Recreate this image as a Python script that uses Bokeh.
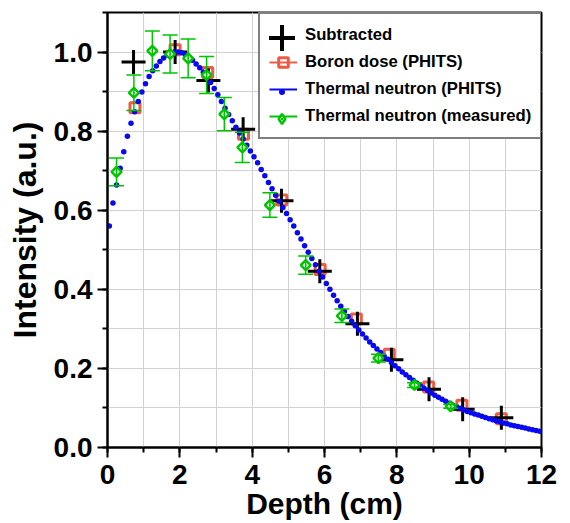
import numpy as np
from bokeh.plotting import figure
from bokeh.models import (Range1d, SingleIntervalTicker, Whisker, TeeHead, ColumnDataSource,
                          Legend, LegendItem, PrintfTickFormatter)
from bokeh.embed import file_html
from bokeh.resources import INLINE

# ---------------- data ----------------
subtracted_depth = [0.72, 1.87, 2.79, 3.75, 4.81, 5.87, 6.91, 7.85, 8.89, 9.82, 10.89]
subtracted_intensity = [0.975, 1.000, 0.928, 0.805, 0.624, 0.446, 0.313, 0.222, 0.147, 0.097, 0.075]

boron_depth = [0.76, 1.87, 2.77, 3.76, 4.82, 5.88, 6.88, 7.79, 8.88, 9.80, 10.89]
boron_intensity = [0.859, 1.006, 0.948, 0.792, 0.626, 0.450, 0.325, 0.236, 0.153, 0.107, 0.073]

phits_depth = [0.05, 0.15, 0.25, 0.35, 0.45, 0.55, 0.65, 0.75, 0.85, 0.95,
               1.05, 1.15, 1.25, 1.35, 1.45, 1.55, 1.65, 1.75, 1.85, 1.95,
               2.05, 2.15, 2.25, 2.35, 2.45, 2.55, 2.65, 2.75, 2.85, 2.95,
               3.05, 3.15, 3.25, 3.35, 3.45, 3.55, 3.65, 3.75, 3.85, 3.95,
               4.05, 4.15, 4.25, 4.35, 4.45, 4.55, 4.65, 4.75, 4.85, 4.95,
               5.05, 5.15, 5.25, 5.35, 5.45, 5.55, 5.65, 5.75, 5.85, 5.95,
               6.05, 6.15, 6.25, 6.35, 6.45, 6.55, 6.65, 6.75, 6.85, 6.95,
               7.05, 7.15, 7.25, 7.35, 7.45, 7.55, 7.65, 7.75, 7.85, 7.95,
               8.05, 8.15, 8.25, 8.35, 8.45, 8.55, 8.65, 8.75, 8.85, 8.95,
               9.05, 9.15, 9.25, 9.35, 9.45, 9.55, 9.65, 9.75, 9.85, 9.95,
               10.05, 10.15, 10.25, 10.35, 10.45, 10.55, 10.65, 10.75, 10.85, 10.95,
               11.05, 11.15, 11.25, 11.35, 11.45, 11.55, 11.65, 11.75, 11.85, 11.95]
phits_intensity = [0.560, 0.618, 0.664, 0.706, 0.748, 0.787, 0.820, 0.849, 0.875, 0.899,
                   0.920, 0.938, 0.953, 0.965, 0.976, 0.985, 0.992, 0.997, 1.000, 1.000,
                   0.998, 0.994, 0.987, 0.979, 0.970, 0.960, 0.949, 0.936, 0.923, 0.908,
                   0.892, 0.875, 0.858, 0.842, 0.826, 0.810, 0.795, 0.780, 0.764, 0.750,
                   0.735, 0.720, 0.703, 0.687, 0.670, 0.654, 0.638, 0.623, 0.607, 0.592,
                   0.576, 0.560, 0.543, 0.527, 0.510, 0.494, 0.478, 0.462, 0.446, 0.431,
                   0.415, 0.400, 0.385, 0.371, 0.357, 0.344, 0.331, 0.319, 0.308, 0.297,
                   0.287, 0.277, 0.267, 0.258, 0.249, 0.240, 0.231, 0.223, 0.215, 0.207,
                   0.199, 0.191, 0.184, 0.177, 0.170, 0.163, 0.156, 0.150, 0.144, 0.138,
                   0.132, 0.127, 0.122, 0.117, 0.112, 0.107, 0.103, 0.099, 0.095, 0.091,
                   0.088, 0.085, 0.082, 0.079, 0.076, 0.073, 0.070, 0.067, 0.065, 0.062,
                   0.060, 0.057, 0.055, 0.053, 0.051, 0.049, 0.047, 0.045, 0.043, 0.041]

measured_depth = [0.25, 0.73, 1.24, 1.73, 2.23, 2.74, 3.23, 3.73, 4.49, 5.48, 6.48, 7.49, 8.49, 9.49]
measured_intensity = [0.697, 0.897, 1.003, 0.995, 0.984, 0.942, 0.843, 0.759, 0.613, 0.461,
                      0.333, 0.226, 0.158, 0.104]
measured_error = [0.035, 0.045, 0.050, 0.048, 0.049, 0.047, 0.042, 0.038, 0.031, 0.023,
                  0.017, 0.010, 0.006, 0.005]

x_ticks_interval = 2
y_ticks_interval = 0.2

FONT = "Liberation Sans"
RED = "#EE5B43"
BLUE = "#0808F2"
GREEN = "#00C400"
GRID = "#d2d2d2"

# ---------------- figure ----------------
p = figure(width=570, height=523, output_backend="svg", toolbar_location=None,
           x_range=Range1d(0, 12), y_range=Range1d(0, 1.1),
           min_border_left=107, min_border_right=29, min_border_top=12, min_border_bottom=76)
p.background_fill_color = "white"
p.border_fill_color = "white"
p.outline_line_color = "black"
p.outline_line_width = 2

p.xaxis.ticker = SingleIntervalTicker(interval=x_ticks_interval, num_minor_ticks=2)
p.yaxis.ticker = SingleIntervalTicker(interval=y_ticks_interval, num_minor_ticks=2)
p.yaxis.formatter = PrintfTickFormatter(format="%.1f")
for ax in (p.xaxis[0], p.yaxis[0]):
    ax.axis_line_width = 2
    ax.axis_line_color = "black"
    ax.major_tick_line_width = 2
    ax.minor_tick_line_width = 2
    ax.major_tick_line_color = "black"
    ax.minor_tick_line_color = "black"
    ax.major_tick_out = 10
    ax.major_tick_in = 0
    ax.minor_tick_out = 5
    ax.minor_tick_in = 0
    ax.major_label_text_font = FONT
    ax.major_label_text_font_style = "bold"
    ax.major_label_text_font_size = "28px"
    ax.major_label_text_color = "black"
    ax.axis_label_text_font = FONT
    ax.axis_label_text_font_style = "bold"
    ax.axis_label_text_color = "black"
p.xaxis.major_label_standoff = 7
p.yaxis.major_label_standoff = 5
p.xaxis.axis_label = "Depth (cm)"
p.xaxis.axis_label_text_font_size = "30px"
p.xaxis.axis_label_standoff = 0
p.yaxis.axis_label = "Intensity (a.u.)"
p.yaxis.axis_label_text_font_size = "32px"
p.yaxis.axis_label_standoff = 8

for g in (p.xgrid[0], p.ygrid[0]):
    g.grid_line_color = GRID
    g.minor_grid_line_color = GRID
    g.grid_line_width = 1
    g.minor_grid_line_width = 1

# ---------------- data renderers ----------------
r_boron = p.scatter(boron_depth, boron_intensity, marker="square", size=10,
                    line_color=RED, line_width=3, fill_color=None)
r_sub = p.scatter(subtracted_depth, subtracted_intensity, marker="cross", size=24,
                  line_color="black", line_width=3)
r_phits = p.scatter(phits_depth, phits_intensity, marker="circle", size=5.5,
                    fill_color=BLUE, line_color=None)

meas_src = ColumnDataSource(dict(
    x=measured_depth, y=measured_intensity,
    upper=[v + e for v, e in zip(measured_intensity, measured_error)],
    lower=[v - e for v, e in zip(measured_intensity, measured_error)],
))
wh = Whisker(source=meas_src, base="x", upper="upper", lower="lower", dimension="height",
             line_color=GREEN, line_width=1.5, level="glyph",
             upper_head=TeeHead(size=15, line_color=GREEN, line_width=1.5),
             lower_head=TeeHead(size=15, line_color=GREEN, line_width=1.5))
p.add_layout(wh)
r_meas = p.scatter("x", "y", source=meas_src, marker="square_dot", angle=np.pi / 4, size=7,
                   line_color=GREEN, line_width=2.5, fill_color="white")

# ---------------- legend (legend-only renderers hold a single NaN) ----------------
NA = [np.nan]
lg_sub_blank = p.scatter(NA, NA, marker="cross", line_alpha=0, fill_alpha=0)
lg_boron_line = p.line(NA, NA, line_color=RED, line_width=2)
lg_boron_sq = p.scatter(NA, NA, marker="square", line_color=RED, line_width=3, fill_color=None)
lg_phits_line = p.line(NA, NA, line_color=BLUE, line_width=2)
lg_meas_line = p.line(NA, NA, line_color=GREEN, line_width=2)

main_legend = Legend(items=[
    LegendItem(label="Subtracted", renderers=[lg_sub_blank]),
    LegendItem(label="Boron dose (PHITS)", renderers=[lg_boron_line, lg_boron_sq]),
    LegendItem(label="Thermal neutron (PHITS)", renderers=[lg_phits_line]),
    LegendItem(label="Thermal neutron (measured)", renderers=[lg_meas_line]),
], location=(151, 308), glyph_width=28, glyph_height=24, spacing=3, padding=9, margin=0,
    label_standoff=8, label_text_font=FONT, label_text_font_style="bold",
    label_text_font_size="16.7px", label_text_color="black",
    border_line_color="black", border_line_width=2, background_fill_color="white",
    background_fill_alpha=1.0)
p.add_layout(main_legend, "center")

lg_sub_big = p.scatter(NA, NA, marker="cross", line_color="black", line_width=4)
lg_phits_dot = p.scatter(NA, NA, marker="circle", fill_color=BLUE, line_color=None)
lg_meas_dia = p.scatter(NA, NA, marker="diamond_dot", line_color=GREEN,
                        line_width=2.5, fill_color="white")


def overlay(renderer, loc, box):
    return Legend(items=[LegendItem(label=" ", renderers=[renderer])], location=loc,
                  glyph_width=box, glyph_height=box, padding=0, margin=0, spacing=0,
                  label_standoff=0, label_width=1, label_height=1, label_text_font_size="1px",
                  border_line_color=None, background_fill_alpha=0)


p.add_layout(overlay(lg_sub_big, (141.5, 377.5), 65), "center")
p.add_layout(overlay(lg_phits_dot, (166.5, 348.5), 15), "center")
p.add_layout(overlay(lg_meas_dia, (161.5, 316.5), 25), "center")

open("out.html", "w").write(file_html(p, INLINE))
